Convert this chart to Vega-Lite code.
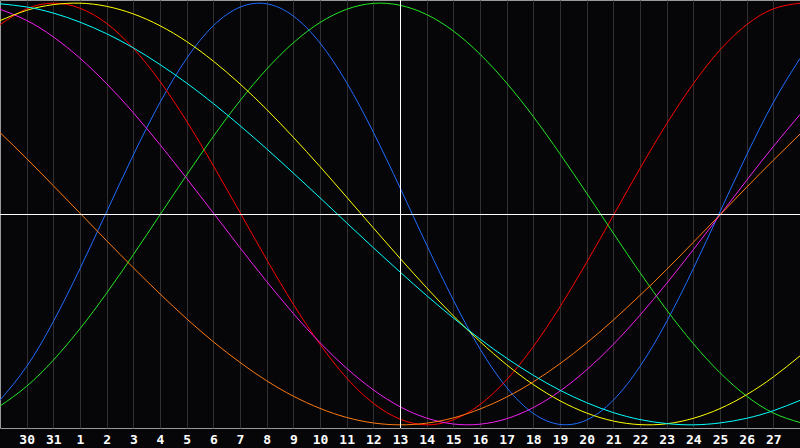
{
  "$schema": "https://vega.github.io/schema/vega-lite/v6.json",
  "width": 800,
  "height": 428,
  "autosize": {"type": "none"},
  "padding": {"left": 0, "top": 0, "right": 0, "bottom": 20},
  "background": "#060608",
  "config": {
    "view": {"fill": "#060608", "stroke": "#9a9a9a", "strokeWidth": 1},
    "axisX": {"labelOverlap": false, "labelFlush": false}
  },
  "datasets": {
    "cycles": [
      {"k": 0, "physical": -0.883, "emotional": 0.898, "intellectual": -0.911, "intuitive": 0.971, "aesthetic": 0.917, "awareness": 0.386, "spiritual": 0.997},
      {"k": 1, "physical": -0.723, "emotional": 0.973, "intellectual": -0.817, "intuitive": 0.918, "aesthetic": 0.966, "awareness": 0.263, "spiritual": 0.982},
      {"k": 2, "physical": -0.510, "emotional": 1.000, "intellectual": -0.693, "intuitive": 0.840, "aesthetic": 0.993, "awareness": 0.134, "spiritual": 0.953},
      {"k": 3, "physical": -0.259, "emotional": 0.976, "intellectual": -0.544, "intuitive": 0.739, "aesthetic": 1.000, "awareness": 0.004, "spiritual": 0.910},
      {"k": 4, "physical": 0.011, "emotional": 0.904, "intellectual": -0.375, "intuitive": 0.618, "aesthetic": 0.985, "awareness": -0.127, "spiritual": 0.855},
      {"k": 5, "physical": 0.280, "emotional": 0.786, "intellectual": -0.193, "intuitive": 0.480, "aesthetic": 0.949, "awareness": -0.255, "spiritual": 0.788},
      {"k": 6, "physical": 0.529, "emotional": 0.629, "intellectual": -0.004, "intuitive": 0.329, "aesthetic": 0.893, "awareness": -0.379, "spiritual": 0.709},
      {"k": 7, "physical": 0.738, "emotional": 0.440, "intellectual": 0.185, "intuitive": 0.169, "aesthetic": 0.818, "awareness": -0.497, "spiritual": 0.621},
      {"k": 8, "physical": 0.893, "emotional": 0.229, "intellectual": 0.368, "intuitive": 0.005, "aesthetic": 0.725, "awareness": -0.606, "spiritual": 0.524},
      {"k": 9, "physical": 0.981, "emotional": 0.007, "intellectual": 0.537, "intuitive": -0.160, "aesthetic": 0.617, "awareness": -0.704, "spiritual": 0.419},
      {"k": 10, "physical": 0.997, "emotional": -0.216, "intellectual": 0.687, "intuitive": -0.320, "aesthetic": 0.496, "awareness": -0.791, "spiritual": 0.309},
      {"k": 11, "physical": 0.939, "emotional": -0.428, "intellectual": 0.812, "intuitive": -0.472, "aesthetic": 0.364, "awareness": -0.864, "spiritual": 0.194},
      {"k": 12, "physical": 0.811, "emotional": -0.618, "intellectual": 0.908, "intuitive": -0.610, "aesthetic": 0.225, "awareness": -0.922, "spiritual": 0.077},
      {"k": 13, "physical": 0.623, "emotional": -0.778, "intellectual": 0.971, "intuitive": -0.732, "aesthetic": 0.080, "awareness": -0.965, "spiritual": -0.042},
      {"k": 14, "physical": 0.388, "emotional": -0.898, "intellectual": 0.999, "intuitive": -0.834, "aesthetic": -0.066, "awareness": -0.991, "spiritual": -0.160},
      {"k": 15, "physical": 0.125, "emotional": -0.973, "intellectual": 0.990, "intuitive": -0.914, "aesthetic": -0.210, "awareness": -1.000, "spiritual": -0.275},
      {"k": 16, "physical": -0.147, "emotional": -1.000, "intellectual": 0.946, "intuitive": -0.968, "aesthetic": -0.350, "awareness": -0.992, "spiritual": -0.387},
      {"k": 17, "physical": -0.408, "emotional": -0.976, "intellectual": 0.868, "intuitive": -0.996, "aesthetic": -0.483, "awareness": -0.967, "spiritual": -0.493},
      {"k": 18, "physical": -0.640, "emotional": -0.904, "intellectual": 0.758, "intuitive": -0.997, "aesthetic": -0.605, "awareness": -0.925, "spiritual": -0.593},
      {"k": 19, "physical": -0.823, "emotional": -0.786, "intellectual": 0.621, "intuitive": -0.971, "aesthetic": -0.715, "awareness": -0.868, "spiritual": -0.684},
      {"k": 20, "physical": -0.946, "emotional": -0.629, "intellectual": 0.462, "intuitive": -0.918, "aesthetic": -0.809, "awareness": -0.796, "spiritual": -0.765},
      {"k": 21, "physical": -0.998, "emotional": -0.440, "intellectual": 0.285, "intuitive": -0.840, "aesthetic": -0.886, "awareness": -0.710, "spiritual": -0.836},
      {"k": 22, "physical": -0.977, "emotional": -0.229, "intellectual": 0.099, "intuitive": -0.739, "aesthetic": -0.944, "awareness": -0.612, "spiritual": -0.895},
      {"k": 23, "physical": -0.883, "emotional": -0.007, "intellectual": -0.091, "intuitive": -0.618, "aesthetic": -0.982, "awareness": -0.503, "spiritual": -0.942},
      {"k": 24, "physical": -0.723, "emotional": 0.216, "intellectual": -0.278, "intuitive": -0.480, "aesthetic": -0.999, "awareness": -0.386, "spiritual": -0.975},
      {"k": 25, "physical": -0.510, "emotional": 0.428, "intellectual": -0.455, "intuitive": -0.329, "aesthetic": -0.995, "awareness": -0.263, "spiritual": -0.994},
      {"k": 26, "physical": -0.259, "emotional": 0.618, "intellectual": -0.615, "intuitive": -0.169, "aesthetic": -0.969, "awareness": -0.134, "spiritual": -1.000},
      {"k": 27, "physical": 0.011, "emotional": 0.778, "intellectual": -0.753, "intuitive": -0.005, "aesthetic": -0.923, "awareness": -0.004, "spiritual": -0.991},
      {"k": 28, "physical": 0.280, "emotional": 0.898, "intellectual": -0.864, "intuitive": 0.160, "aesthetic": -0.857, "awareness": 0.127, "spiritual": -0.969},
      {"k": 29, "physical": 0.529, "emotional": 0.973, "intellectual": -0.944, "intuitive": 0.320, "aesthetic": -0.773, "awareness": 0.255, "spiritual": -0.933},
      {"k": 30, "physical": 0.738, "emotional": 1.000, "intellectual": -0.989, "intuitive": 0.472, "aesthetic": -0.673, "awareness": 0.379, "spiritual": -0.884}
    ]
  },
  "layer": [
    {
      "data": {"name": "cycles"},
      "transform": [
        {"fold": ["physical", "emotional", "intellectual", "intuitive", "aesthetic", "awareness", "spiritual"], "as": ["cycle", "value"]}
      ],
      "mark": {"type": "line", "strokeWidth": 1, "interpolate": "natural", "clip": true},
      "encoding": {
        "x": {
          "field": "k",
          "type": "ordinal",
          "scale": {"type": "point", "padding": 0, "domain": [0, 1, 2, 3, 4, 5, 6, 7, 8, 9, 10, 11, 12, 13, 14, 15, 16, 17, 18, 19, 20, 21, 22, 23, 24, 25, 26, 27, 28, 29, 30]},
          "axis": {
            "values": [1, 2, 3, 4, 5, 6, 7, 8, 9, 10, 11, 12, 13, 14, 15, 16, 17, 18, 19, 20, 21, 22, 23, 24, 25, 26, 27, 28, 29],
            "labelExpr": "'' + (datum.value <= 2 ? datum.value + 29 : datum.value - 2)",
            "title": null,
            "grid": true,
            "gridColor": "#303030",
            "gridWidth": 1,
            "domain": false,
            "ticks": false,
            "labelAngle": 0,
            "labelColor": "#ffffff",
            "labelFont": "DejaVu Sans Mono",
            "labelFontWeight": "bold",
            "labelFontSize": 13,
            "labelPadding": 5,
            "labelFlush": false,
            "labelOverlap": false
          }
        },
        "y": {
          "field": "value",
          "type": "quantitative",
          "scale": {"domain": [-1.015, 1.015], "nice": false, "zero": false},
          "axis": null
        },
        "color": {
          "field": "cycle",
          "type": "nominal",
          "scale": {
            "domain": ["physical", "emotional", "intellectual", "intuitive", "aesthetic", "awareness", "spiritual"],
            "range": ["#1e6cff", "#ff0000", "#22e822", "#f020f0", "#ffff00", "#ff7a10", "#00ffff"]
          },
          "legend": null
        }
      }
    },
    {
      "data": {"values": [{"value": 0}]},
      "mark": {"type": "rule", "color": "#ffffff", "strokeWidth": 1, "yOffset": 0.5},
      "encoding": {
        "y": {"field": "value", "type": "quantitative", "scale": {"domain": [-1.015, 1.015], "nice": false, "zero": false}, "axis": null}
      }
    },
    {
      "data": {"values": [{"k": 15}]},
      "mark": {"type": "rule", "color": "#ffffff", "strokeWidth": 1, "xOffset": 0.5},
      "encoding": {
        "x": {"field": "k", "type": "ordinal"}
      }
    }
  ]
}
